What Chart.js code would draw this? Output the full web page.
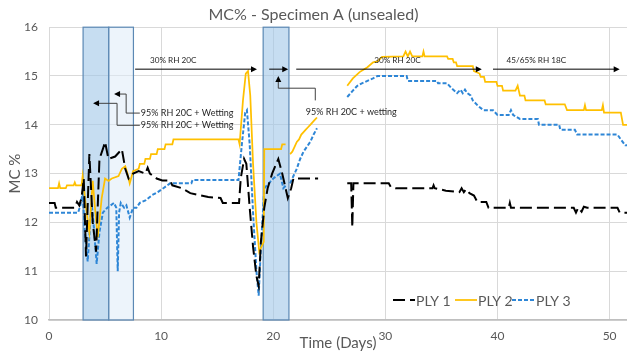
<!DOCTYPE html>
<html>
<head>
<meta charset="utf-8">
<script src="https://cdn.jsdelivr.net/npm/chart.js@4.4.1/dist/chart.umd.min.js"></script>
<style>
  html, body { margin: 0; padding: 0; background: #fff; }
  #wrap { width: 627px; height: 352px; }
</style>
</head>
<body>
<div id="wrap"><canvas id="chart"></canvas></div>
<script>
// values: [day, MC %], null = break in the record
const ply1 = [
  [0, 12.4], [0.5, 12.4], [0.6, 12.3], [2.3, 12.3], [2.5, 12.42], [2.7, 12.35], [2.9, 12.5],
  [3.1, 12.9], [3.3, 11.3], [3.6, 13.4], [3.9, 12.0], [4.2, 11.4], [4.5, 13.3], [4.8, 13.5],
  [5.0, 13.65], [5.3, 13.3], [5.9, 13.35], [6.5, 13.5], [6.8, 13.1], [7.1, 12.9], [7.5, 13.0],
  [8.0, 13.05], [8.6, 13.0], [8.8, 13.12], [9.0, 13.0], [9.6, 12.9], [10.1, 12.86], [10.8, 12.86],
  [11.0, 12.76], [11.85, 12.7], [12.6, 12.6], [14.2, 12.52], [15.3, 12.5], [15.5, 12.4],
  [16.95, 12.4], [17.1, 12.9], [17.4, 13.3], [17.6, 13.2], [17.9, 12.3], [18.2, 11.5],
  [18.5, 10.9], [18.7, 10.7], [18.9, 11.6], [19.2, 12.3], [19.5, 12.7], [19.9, 13.0],
  [20.45, 13.3], [20.8, 13.0], [21.3, 12.5], [21.6, 12.7], [21.8, 12.9], [24.0, 12.9], [24.1, null],
  [26.6, 12.8], [26.95, 12.8], [27.05, 11.9], [27.15, 12.8], [30.3, 12.8], [30.5, 12.72],
  [30.9, 12.7], [34.2, 12.7], [34.3, 12.76], [34.4, 12.7], [35.4, 12.65], [36.6, 12.62],
  [36.8, 12.7], [37.0, 12.62], [37.2, 12.68], [37.5, 12.6], [37.9, 12.55], [38.2, 12.42],
  [39.0, 12.42], [39.2, 12.3], [41.0, 12.3], [41.1, 12.4], [41.2, 12.3], [46.8, 12.3],
  [47.0, 12.2], [47.2, 12.3], [47.5, 12.22], [47.7, 12.32], [48.0, 12.3], [50.7, 12.3],
  [50.9, 12.2], [51.6, 12.2]
];
const ply2 = [
  [0, 12.7], [0.8, 12.7], [0.9, 12.8], [1.0, 12.7], [1.5, 12.7], [1.6, 12.76], [2.2, 12.76],
  [2.3, 12.82], [2.4, 12.76], [2.9, 12.76], [3.0, 12.95], [3.3, 12.3], [3.6, 11.8], [3.9, 12.85],
  [4.1, 12.3], [4.35, 11.7], [4.7, 12.5], [5.0, 12.9], [5.3, 12.85], [5.6, 12.9], [6.2, 12.95],
  [6.5, 13.1], [6.8, 13.15], [7.0, 13.0], [7.2, 12.8], [7.5, 13.05], [8.0, 13.1], [8.1, 13.2],
  [8.5, 13.2], [8.6, 13.3], [9.0, 13.3], [9.1, 13.4], [9.6, 13.4], [9.7, 13.5], [10.3, 13.5],
  [10.4, 13.6], [11.0, 13.6], [11.1, 13.7], [16.9, 13.7], [17.0, 13.6], [17.3, 14.5],
  [17.55, 15.05], [17.75, 15.1], [17.95, 14.6], [18.2, 13.2], [18.5, 12.0], [18.75, 11.4],
  [19.15, 11.6], [19.2, 13.5], [20.7, 13.5], [20.8, 13.6], [21.1, 13.6], [21.3, null],
  [21.5, 13.4], [21.7, 13.45], [21.9, 13.55], [22.1, 13.65], [22.3, 13.7], [22.5, 13.8],
  [22.7, 13.85], [22.9, 13.9], [23.1, 13.95], [23.3, 14.0], [23.5, 14.05], [23.7, 14.1],
  [23.9, 14.15], [24.0, null],
  [26.6, 14.8], [27.1, 14.95], [27.7, 15.08], [28.4, 15.18], [28.9, 15.28], [29.3, 15.3],
  [29.7, 15.39], [31.6, 15.4], [31.8, 15.5], [32.0, 15.4], [32.2, 15.5], [32.4, 15.4],
  [33.3, 15.4], [33.4, 15.5], [33.5, 15.4], [35.5, 15.4], [35.6, 15.35], [36.0, 15.35],
  [36.1, 15.28], [36.3, 15.28], [36.4, 15.2], [37.8, 15.2], [37.9, 15.1], [38.4, 15.05],
  [38.5, 14.98], [38.8, 14.98], [38.9, 14.88], [39.9, 14.88], [40.0, 14.8], [40.4, 14.8],
  [40.5, 14.7], [41.6, 14.7], [41.8, 14.8], [41.9, 14.7], [42.0, 14.6], [42.4, 14.6],
  [42.5, 14.5], [44.2, 14.5], [44.3, 14.42], [46.0, 14.42], [46.2, 14.3], [47.7, 14.3],
  [47.8, 14.4], [47.9, 14.3], [49.3, 14.3], [49.4, 14.4], [49.5, 14.25], [51.0, 14.25],
  [51.2, 14.0], [51.6, 14.0]
];
const ply3 = [
  [0, 12.2], [2.6, 12.2], [2.8, 12.35], [3.0, 12.6], [3.2, 11.8], [3.45, 11.2], [3.8, 12.4],
  [4.0, 11.9], [4.25, 11.15], [4.5, 11.8], [4.8, 12.2], [5.2, 12.3], [5.5, 12.35], [5.8, 12.4],
  [6.0, 12.3], [6.13, 11.0], [6.25, 12.2], [6.4, 12.4], [6.7, 12.3], [6.9, 12.35], [7.2, 12.1],
  [7.5, 12.3], [7.8, 12.3], [8.1, 12.4], [8.6, 12.45], [9.2, 12.56], [9.7, 12.62], [10.2, 12.7],
  [10.8, 12.8], [12.7, 12.8], [12.8, 12.87], [16.9, 12.87], [17.2, 13.6], [17.5, 14.25],
  [17.65, 14.3], [17.9, 13.6], [18.2, 12.2], [18.5, 11.0], [18.7, 10.5], [18.9, 11.5],
  [19.2, 12.7], [19.6, 12.8], [20.0, 12.9], [20.6, 13.0], [20.9, 12.7], [21.1, 12.75],
  [21.3, null], [21.5, 12.8], [21.8, 12.95], [22.1, 13.1], [22.4, 13.3], [22.7, 13.45],
  [23.0, 13.55], [23.3, 13.65], [23.6, 13.8], [23.9, 13.93], [24.0, null],
  [26.6, 14.57], [27.1, 14.7], [27.5, 14.8], [27.9, 14.85], [28.4, 14.9], [28.9, 14.95],
  [29.3, 15.0], [31.9, 15.0], [32.0, 14.9], [34.6, 14.9], [34.7, 14.85], [35.5, 14.85],
  [35.9, 14.75], [36.4, 14.65], [36.7, 14.72], [36.9, 14.65], [37.1, 14.72], [37.3, 14.65],
  [37.6, 14.6], [37.8, 14.5], [38.3, 14.38], [38.75, 14.3], [39.6, 14.3], [40.0, 14.2],
  [41.0, 14.2], [41.2, 14.3], [41.4, 14.2], [42.0, 14.12], [43.6, 14.12], [43.7, 14.0],
  [45.5, 14.0], [45.6, 13.9], [46.9, 13.9], [47.1, 13.8], [50.7, 13.8], [51.0, 13.7],
  [51.4, 13.58], [51.6, 13.58]
];

const xTicks = [0, 10, 20, 30, 40, 50];
const yTicks = [10, 11, 12, 13, 14, 15, 16];

// shaded exposure periods [from day, to day, fill]
const bands = [
  [3.04, 5.33, 'rgba(160,199,232,0.6)'],
  [5.33, 7.53, 'rgba(222,235,247,0.55)'],
  [19.1, 21.4, 'rgba(160,199,232,0.6)']
];
// condition arrows [from day, to day, label, label day]
const arrows = [
  [7.68, 18.55, '30% RH 20C', 9.0],
  [19.64, 21.34, '', 0],
  [22.05, 38.6, '30% RH 20C', 29.0],
  [39.6, 50.9, '45/65% RH 18C', 40.8]
];

const toXY = pts => pts.map(p => ({ x: p[0], y: p[1] }));

const textGrey = '#595959';

function arrowHead(ctx, x, y, dir) {
  const L = 6, W = 3;
  ctx.beginPath();
  if (dir === 'right') { ctx.moveTo(x, y); ctx.lineTo(x - L, y - W); ctx.lineTo(x - L, y + W); }
  if (dir === 'left') { ctx.moveTo(x, y); ctx.lineTo(x + L, y - W); ctx.lineTo(x + L, y + W); }
  if (dir === 'up') { ctx.moveTo(x, y); ctx.lineTo(x - W, y + L); ctx.lineTo(x + W, y + L); }
  ctx.closePath();
  ctx.fill();
}

const bandsPlugin = {
  id: 'bands',
  beforeDatasetsDraw(chart) {
    const { ctx, chartArea, scales: { x } } = chart;
    ctx.save();
    bands.forEach(b => {
      const x0 = x.getPixelForValue(b[0]), x1 = x.getPixelForValue(b[1]);
      ctx.fillStyle = b[2];
      ctx.fillRect(x0, chartArea.top, x1 - x0, chartArea.bottom - chartArea.top);
      ctx.strokeStyle = '#5b88b4';
      ctx.lineWidth = 1.2;
      ctx.strokeRect(x0, chartArea.top, x1 - x0, chartArea.bottom - chartArea.top);
    });
    ctx.restore();
  }
};

const notesPlugin = {
  id: 'notes',
  afterDatasetsDraw(chart) {
    const { ctx, scales: { x, y } } = chart;
    const px = v => x.getPixelForValue(v), py = v => y.getPixelForValue(v);
    ctx.save();
    ctx.font = '8.2px Lato';
    ctx.textBaseline = 'middle';
    ctx.fillStyle = '#000';
    ctx.strokeStyle = '#000';
    ctx.lineWidth = 1;
    const ay = py(15.14);
    arrows.forEach(a => {
      ctx.beginPath();
      ctx.moveTo(px(a[0]), ay);
      ctx.lineTo(px(a[1]) - 4, ay);
      ctx.stroke();
      arrowHead(ctx, px(a[1]), ay, 'right');
      if (a[2]) {
        ctx.fillStyle = '#262626';
        ctx.textAlign = 'left';
        ctx.fillText(a[2], px(a[3]), py(15.32));
        ctx.fillStyle = '#000';
      }
    });

    // elbow call-outs for the wetting periods
    ctx.font = '9px Lato';
    ctx.strokeStyle = '#404040';
    ctx.fillStyle = '#000';
    const callouts = [
      [[5.8, 14.63], [6.88, 14.63], [6.88, 14.24], [8.1, 14.24]],
      [[3.93, 14.44], [6.07, 14.44], [6.07, 13.99], [8.1, 13.99]]
    ];
    callouts.forEach(c => {
      ctx.beginPath();
      ctx.moveTo(px(c[0][0]) + 4, py(c[0][1]));
      for (let i = 1; i < c.length; i++) ctx.lineTo(px(c[i][0]), py(c[i][1]));
      ctx.stroke();
      arrowHead(ctx, px(c[0][0]), py(c[0][1]), 'left');
      ctx.fillStyle = '#262626';
      ctx.textAlign = 'left';
      ctx.fillText('95% RH 20C + Wetting', px(c[3][0]) + 1, py(c[3][1]));
      ctx.fillStyle = '#000';
    });
    ctx.beginPath();
    ctx.moveTo(px(23.75), py(14.5));
    ctx.lineTo(px(23.75), py(14.75));
    ctx.lineTo(px(20.45), py(14.75));
    ctx.lineTo(px(20.45), py(15.0) + 4);
    ctx.stroke();
    arrowHead(ctx, px(20.45), py(15.0), 'up');
    ctx.fillStyle = '#262626';
    ctx.textAlign = 'center';
    ctx.fillText('95% RH 20C + wetting', px(26.96), py(14.26));

    // legend inside the plot, lower right
    const ly = 300;
    const items = [[393, 416], [455, 478], [512, 536]];
    ctx.font = '14px Lato';
    ctx.textAlign = 'left';
    chart.data.datasets.forEach((ds, i) => {
      ctx.beginPath();
      ctx.setLineDash(ds.borderDash || []);
      ctx.strokeStyle = ds.borderColor;
      ctx.lineWidth = ds.borderWidth;
      ctx.moveTo(items[i][0], ly);
      ctx.lineTo(items[i][1] - 1, ly);
      ctx.stroke();
      ctx.setLineDash([]);
      ctx.fillStyle = textGrey;
      ctx.fillText(ds.label, items[i][1], ly + 1);
    });
    ctx.restore();
  }
};

new Chart(document.getElementById('chart'), {
  type: 'line',
  data: {
    datasets: [
      { label: 'PLY 1', data: toXY(ply1), borderColor: '#000000', borderWidth: 2, borderDash: [12, 5] },
      { label: 'PLY 2', data: toXY(ply2), borderColor: '#ffc000', borderWidth: 1.75 },
      { label: 'PLY 3', data: toXY(ply3), borderColor: '#2e86d6', borderWidth: 2, borderDash: [4, 2] }
    ]
  },
  options: {
    responsive: true,
    maintainAspectRatio: false,
    animation: false,
    spanGaps: false,
    layout: { padding: 0 },
    elements: { point: { radius: 0 }, line: { tension: 0, fill: false } },
    plugins: {
      legend: { display: false },
      tooltip: { enabled: false },
      title: {
        display: true,
        text: 'MC% - Specimen A (unsealed)',
        color: textGrey,
        font: { family: 'Lato', size: 16, weight: 'normal' },
        padding: { top: 5, bottom: 3 }
      }
    },
    scales: {
      x: {
        type: 'linear',
        min: 0,
        max: 51.55,
        afterBuildTicks: s => { s.ticks = xTicks.map(v => ({ value: v })); },
        afterFit: s => { s.height = 32; },
        ticks: { color: textGrey, font: { family: 'Lato', size: 12 }, padding: 9 },
        grid: { color: '#d9d9d9', drawTicks: false },
        border: { color: '#bfbfbf', width: 1.5 },
        title: {
          display: true,
          text: 'Time (Days)',
          color: textGrey,
          font: { family: 'Lato', size: 15 },
          padding: { top: 0, bottom: 0 }
        }
      },
      y: {
        min: 10,
        max: 16,
        afterBuildTicks: s => { s.ticks = yTicks.map(v => ({ value: v })); },
        afterFit: s => { s.width = 49; },
        ticks: { color: textGrey, font: { family: 'Lato', size: 12 }, padding: 11 },
        grid: { color: '#d9d9d9', drawTicks: false },
        border: { display: false },
        title: {
          display: true,
          text: 'MC %',
          color: textGrey,
          font: { family: 'Lato', size: 15 },
          padding: { top: 6, bottom: 0 }
        }
      }
    }
  },
  plugins: [bandsPlugin, notesPlugin]
});
</script>
</body>
</html>
